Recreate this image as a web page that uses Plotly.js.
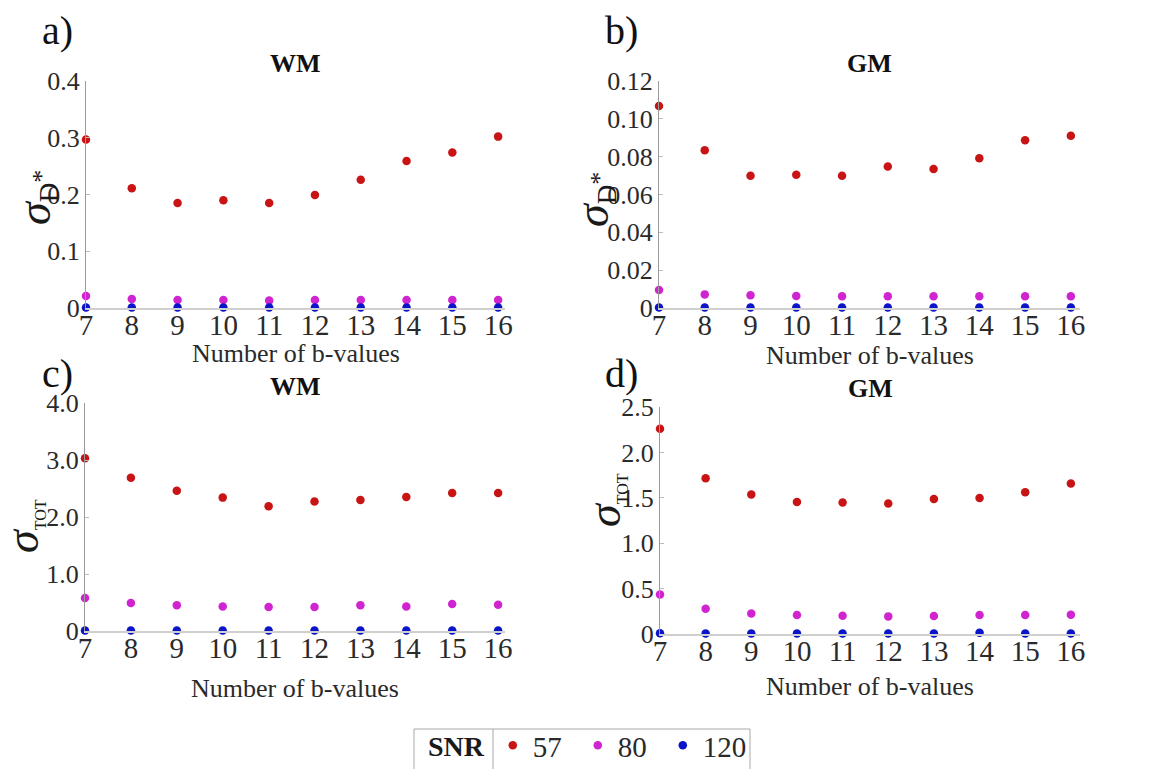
<!DOCTYPE html>
<html>
<head>
<meta charset="utf-8">
<script src="https://cdn.plot.ly/plotly-3.0.1.min.js"></script>
<style>
  html, body { margin: 0; padding: 0; background: #fff; overflow: hidden; }
  #chart { width: 1170px; height: 769px; }
</style>
</head>
<body>
<div id="chart"></div>
<script>
// Number of b-values used in the fit
const bCounts = [7, 8, 9, 10, 11, 12, 13, 14, 15, 16];

// SNR levels (legend entries)
const snrLabels = ['57', '80', '120'];
const snrColors = ['#c81414', '#d024d0', '#0a14c8'];

// a) sigma D* in white matter
const wmDstarSnr57  = [0.297, 0.211, 0.185, 0.190, 0.185, 0.199, 0.226, 0.259, 0.274, 0.302];
const wmDstarSnr80  = [0.021, 0.016, 0.014, 0.014, 0.013, 0.014, 0.014, 0.014, 0.014, 0.014];
const wmDstarSnr120 = [0.001, 0.001, 0.001, 0.001, 0.001, 0.001, 0.001, 0.001, 0.001, 0.001];

// b) sigma D* in grey matter
const gmDstarSnr57  = [0.1068, 0.0834, 0.0699, 0.0704, 0.0699, 0.0748, 0.0735, 0.0792, 0.0887, 0.0910];
const gmDstarSnr80  = [0.0095, 0.0072, 0.0067, 0.0063, 0.0062, 0.0062, 0.0062, 0.0062, 0.0062, 0.0062];
const gmDstarSnr120 = [0.0003, 0.0003, 0.0003, 0.0003, 0.0003, 0.0003, 0.0003, 0.0003, 0.0003, 0.0003];

// c) sigma TOT in white matter
const wmTotSnr57  = [3.03, 2.69, 2.46, 2.34, 2.19, 2.27, 2.30, 2.35, 2.42, 2.42];
const wmTotSnr80  = [0.58, 0.49, 0.45, 0.43, 0.42, 0.42, 0.45, 0.43, 0.475, 0.46];
const wmTotSnr120 = [0.01, 0.01, 0.01, 0.01, 0.01, 0.01, 0.01, 0.01, 0.01, 0.01];

// d) sigma TOT in grey matter
const gmTotSnr57  = [2.26, 1.716, 1.536, 1.455, 1.448, 1.437, 1.488, 1.499, 1.562, 1.657];
const gmTotSnr80  = [0.436, 0.279, 0.227, 0.209, 0.200, 0.194, 0.198, 0.209, 0.209, 0.213];
const gmTotSnr120 = [0.007, 0.006, 0.006, 0.006, 0.006, 0.006, 0.006, 0.015, 0.006, 0.006];

// y tick values / labels per panel
const dstarWmTicks = [0, 0.1, 0.2, 0.3, 0.4];
const dstarWmText  = ['0', '0.1', '0.2', '0.3', '0.4'];
const dstarGmTicks = [0, 0.02, 0.04, 0.06, 0.08, 0.10, 0.12];
const dstarGmText  = ['0', '0.02', '0.04', '0.06', '0.08', '0.10', '0.12'];
const totWmTicks = [0, 1, 2, 3, 4];
const totWmText  = ['0', '1.0', '2.0', '3.0', '4.0'];
const totGmTicks = [0, 0.5, 1.0, 1.5, 2.0, 2.5];
const totGmText  = ['0', '0.5', '1.0', '1.5', '2.0', '2.5'];

const panelTitles = ['WM', 'GM', 'WM', 'GM'];
const panelLetters = ['a)', 'b)', 'c)', 'd)'];
const xTitle = 'Number of b-values';
const dstarTitle = "<span style='font-size:46px'><i>σ</i></span><sub><span style='font-size:27px'>D</span></sub><span style='font-size:26px'>*</span>";
const totTitle = "<span style='font-size:46px'><i>σ</i></span><sub><span style='font-size:16px'>TOT</span></sub>";
const yTitles = [dstarTitle, dstarTitle, totTitle, totTitle];

const SERIF = '"Liberation Serif", "Times New Roman", Times, serif';
const W = 1170, H = 769;

const panels = [
  { series: [wmDstarSnr57, wmDstarSnr80, wmDstarSnr120], ticks: dstarWmTicks, text: dstarWmText, range: [0, 0.4] },
  { series: [gmDstarSnr57, gmDstarSnr80, gmDstarSnr120], ticks: dstarGmTicks, text: dstarGmText, range: [0, 0.12] },
  { series: [wmTotSnr57, wmTotSnr80, wmTotSnr120], ticks: totWmTicks, text: totWmText, range: [0, 4] },
  { series: [gmTotSnr57, gmTotSnr80, gmTotSnr120], ticks: totGmTicks, text: totGmText, range: [0, 2.5] }
];

// plot-area boxes in pixels: [left, right, top, bottom]
const boxes = [
  [86, 505, 81, 308],
  [659, 1080, 81, 308],
  [85, 505, 403, 631],
  [660, 1080, 407, 634]
];
const xMax = [16.15, 16.2, 16.15, 16.2];
// pixel positions of the titles
const xTitleY = [354, 355, 688, 686];
const yTitleXY = [[36, 198], [594, 200], [23, 526], [605, 500]];
const titleShift = [1, 1, 0, 2];

const traces = [];
const layout = {
  width: W, height: H,
  margin: { l: 0, r: 0, t: 0, b: 0, autoexpand: false },
  paper_bgcolor: '#ffffff',
  plot_bgcolor: 'rgba(0,0,0,0)',
  font: { family: SERIF, color: '#2a2a2a' },
  showlegend: true,
  legend: {
    orientation: 'h',
    x: 419 / W, xanchor: 'left',
    y: 1 - 720 / H, yanchor: 'top',
    bgcolor: 'rgba(0,0,0,0)',
    borderwidth: 0,
    font: { family: SERIF, size: 29, color: '#2a2a2a' },
    title: { text: '&nbsp;<b>SNR</b>', side: 'left', font: { family: SERIF, size: 28, color: '#1a1a1a' } },
    itemwidth: 30,
    entrywidth: 40
  },
  annotations: [],
  shapes: []
};

panels.forEach((p, i) => {
  const n = i + 1;
  const xa = n === 1 ? 'x' : 'x' + n;
  const ya = n === 1 ? 'y' : 'y' + n;
  p.series.forEach((vals, s) => {
    traces.push({
      type: 'scatter', mode: 'markers',
      x: bCounts, y: vals,
      xaxis: xa, yaxis: ya,
      name: snrLabels[s],
      legendgroup: snrLabels[s],
      showlegend: i === 0,
      cliponaxis: false,
      marker: { color: snrColors[s], size: 8.5 }
    });
  });

  const b = boxes[i];
  layout['xaxis' + (n === 1 ? '' : n)] = {
    domain: [b[0] / W, b[1] / W],
    anchor: ya,
    range: [7, xMax[i]],
    tickvals: bCounts,
    ticktext: bCounts.map(String),
    showgrid: false, zeroline: false,
    showline: true, linecolor: '#cfcfcf', linewidth: 2,
    ticks: '',
    ticklabelstandoff: -10,
    tickfont: { family: SERIF, size: 29, color: '#2a2a2a' },
    automargin: false, fixedrange: true
  };
  layout['yaxis' + (n === 1 ? '' : n)] = {
    domain: [1 - b[3] / H, 1 - b[2] / H],
    anchor: xa,
    range: p.range,
    tickvals: p.ticks,
    ticktext: p.text,
    showgrid: false, zeroline: false,
    showline: true, linecolor: '#9a9a9a', linewidth: 1,
    ticks: 'inside', ticklen: 4, tickcolor: '#bdbdbd', tickwidth: 1,
    tickfont: { family: SERIF, size: 26, color: '#2a2a2a' },
    automargin: false, fixedrange: true
  };

  // panel title (tissue type)
  layout.annotations.push({
    xref: xa + ' domain', yref: ya + ' domain',
    x: 0.5, y: 1, xanchor: 'center', yanchor: 'bottom', yshift: titleShift[i],
    text: '<b>' + panelTitles[i] + '</b>', showarrow: false,
    font: { family: SERIF, size: 26, color: '#111' }
  });

  // x-axis title
  layout.annotations.push({
    xref: xa + ' domain', yref: 'paper',
    x: 0.5, y: 1 - xTitleY[i] / H, xanchor: 'center', yanchor: 'middle',
    text: xTitle, showarrow: false,
    font: { family: SERIF, size: 26, color: '#2a2a2a' }
  });

  // y-axis title
  layout.annotations.push({
    xref: 'paper', yref: 'paper',
    x: yTitleXY[i][0] / W, y: 1 - yTitleXY[i][1] / H,
    xanchor: 'center', yanchor: 'middle', textangle: -90,
    text: yTitles[i], showarrow: false,
    font: { family: SERIF, size: 36, color: '#1a1a1a' }
  });
});

// panel letters
const letterPos = [[40, 31], [603, 31], [40, 373], [603, 373]];
letterPos.forEach((pos, i) => {
  layout.annotations.push({
    xref: 'paper', yref: 'paper',
    x: pos[0] / W, y: 1 - pos[1] / H, xanchor: 'left', yanchor: 'middle',
    text: panelLetters[i], showarrow: false,
    font: { family: SERIF, size: 40, color: '#111' }
  });
});

// legend frame (open at the bottom edge) and divider after the title
layout.shapes.push({
  type: 'rect', xref: 'paper', yref: 'paper',
  x0: 414 / W, x1: 750 / W, y0: 1 - 729 / H, y1: -0.05,
  line: { color: '#a8a8a8', width: 1 }, fillcolor: 'rgba(0,0,0,0)'
});
layout.shapes.push({
  type: 'line', xref: 'paper', yref: 'paper',
  x0: 493 / W, x1: 493 / W, y0: 1 - 729 / H, y1: -0.05,
  line: { color: '#a8a8a8', width: 1 }
});

Plotly.newPlot('chart', traces, layout, { displayModeBar: false, staticPlot: true });
</script>
</body>
</html>
